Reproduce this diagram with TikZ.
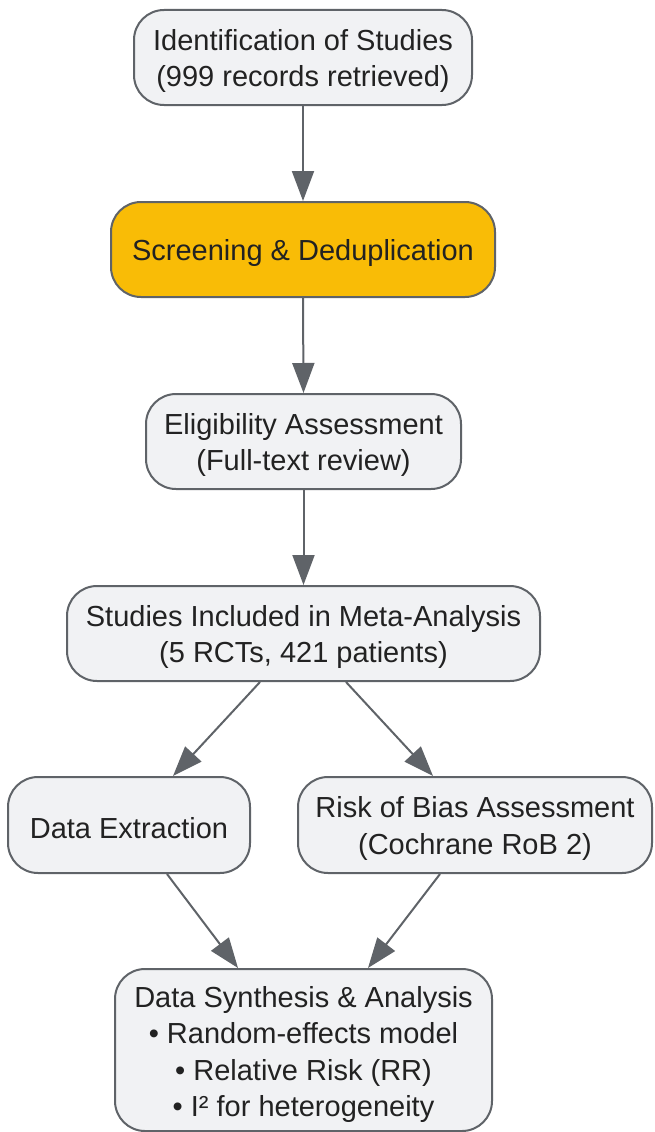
\documentclass[tikz,border=0pt]{standalone}
\usepackage{fontspec}
\setmainfont{Liberation Sans}
\usetikzlibrary{arrows.meta,calc}
\definecolor{boxfill}{HTML}{F1F2F4}
\definecolor{boxline}{HTML}{5F6368}
\definecolor{hilite}{HTML}{F9BC06}
\definecolor{txt}{HTML}{222222}
\newcommand\topstrut[1]{\rule{0pt}{#1}}
\begin{document}
\begin{tikzpicture}[x=1pt,y=-1pt,
  box/.style={draw=boxline, line width=2pt, fill=boxfill, rounded corners=30pt,
    align=center, inner sep=0pt, text=txt,
    font=\fontsize{29}{36.5}\selectfont},
  conn/.style={draw=boxline, line width=2pt, -{Triangle[length=30pt,width=22pt]}}]
\useasboundingbox (0,0) rectangle (654,1132);
\node[box, minimum width=338pt, minimum height=95pt] (n1) at (303,57.5)
  {\topstrut{28pt}Identification of Studies\\(999 records retrieved)};
\node[box, fill=hilite, minimum width=384pt, minimum height=95pt] (n2) at (303,249.5)
  {\topstrut{28pt}Screening \& Deduplication};
\node[box, minimum width=315pt, minimum height=95pt] (n3) at (303.5,441.5)
  {\topstrut{28pt}Eligibility Assessment\\(Full-text review)};
\node[box, minimum width=473pt, minimum height=95pt] (n4) at (303.5,633.5)
  {\topstrut{28pt}Studies Included in Meta-Analysis\\(5 RCTs, 421 patients)};
\node[box, minimum width=242pt, minimum height=96pt] (n5) at (129,825)
  {\topstrut{28pt}Data Extraction};
\node[box, minimum width=354pt, minimum height=96pt] (n6) at (475,825)
  {\topstrut{28pt}Risk of Bias Assessment\\(Cochrane RoB 2)};
\node[box, minimum width=377pt, minimum height=162pt] (n7) at (303.5,1050)
  {\topstrut{30pt}Data Synthesis \& Analysis\\• Random-effects model\\• Relative Risk (RR)\\• I² for heterogeneity};
\draw[conn] (n1.south) -- (n2.north);
\draw[conn] (n2.south) -- (n3.north);
\draw[conn] (n3.south) -- (n4.north);
\draw[conn] ($(n4.south)+(-43.5,0)$) -- ($(n5.north)+(44,0)$);
\draw[conn] ($(n4.south)+(42.5,0)$) -- ($(n6.north)+(-42,0)$);
\draw[conn] ($(n5.south)+(38,0)$) -- ($(n7.north)+(-65.5,0)$);
\draw[conn] ($(n6.south)+(-35,0)$) -- ($(n7.north)+(64.5,0)$);
\end{tikzpicture}
\end{document}
